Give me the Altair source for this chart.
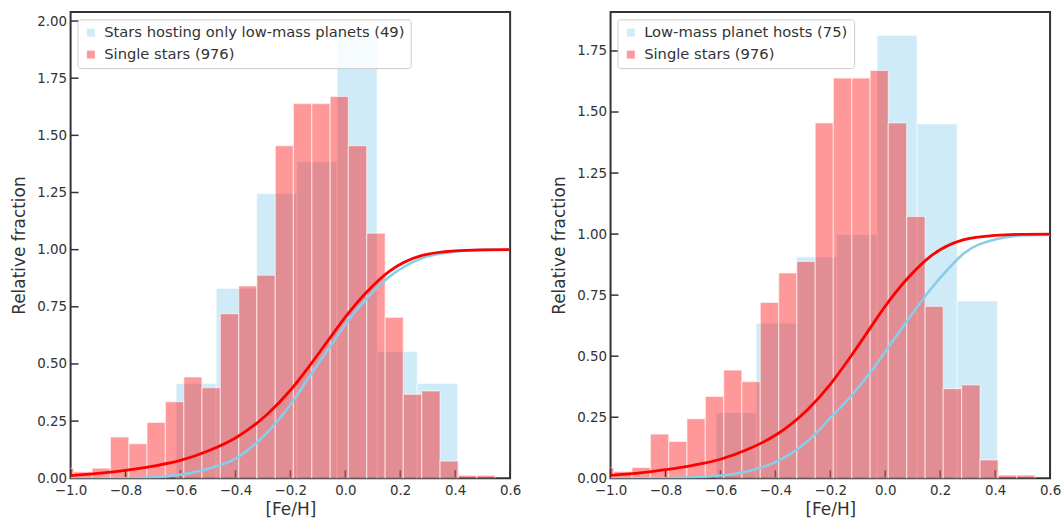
import altair as alt
import pandas as pd

FONT = "DejaVu Sans"
TXT = "#333333"

# ---------------- data ----------------
red_label = "Single stars (976)"
blue_label_left = "Stars hosting only low-mass planets (49)"
blue_label_right = "Low-mass planet hosts (75)"

red_edges = [-1.055, -0.988, -0.922, -0.855, -0.788, -0.722, -0.655, -0.588,
             -0.522, -0.455, -0.388, -0.322, -0.255, -0.189, -0.122, -0.055,
             0.011, 0.078, 0.145, 0.211, 0.278, 0.345, 0.411, 0.478, 0.545]
red_heights = [0.043, 0.028, 0.044, 0.181, 0.151, 0.244, 0.335, 0.443,
               0.396, 0.720, 0.841, 0.888, 1.455, 1.639, 1.639, 1.670,
               1.455, 1.072, 0.704, 0.367, 0.382, 0.075, 0.013, 0.013]

blue_edges = [-0.616, -0.470, -0.323, -0.177, -0.030, 0.116, 0.262, 0.409]
blue_heights_left = [0.415, 0.831, 1.246, 1.385, 1.939, 0.554, 0.415]
blue_heights_right = [0.269, 0.635, 0.907, 0.998, 1.814, 1.451, 0.726]

red_cdf_x = [-1.0, -0.9, -0.8, -0.7, -0.6, -0.5, -0.4, -0.285, -0.2, -0.125,
             -0.055, 0.0, 0.08, 0.16, 0.28, 0.4, 0.5, 0.6]
red_cdf_y = [0.012, 0.021, 0.035, 0.053, 0.078, 0.119, 0.176, 0.279, 0.385, 0.500,
             0.615, 0.705, 0.817, 0.905, 0.975, 0.995, 0.999, 1.0]

blue_cdf_x_left = [-1.0, -0.8, -0.7, -0.6, -0.5, -0.4, -0.285, -0.2, -0.13,
                   -0.058, 0.0, 0.075, 0.159, 0.28, 0.4, 0.5, 0.6]
blue_cdf_y_left = [0.0, 0.0, 0.004, 0.016, 0.042, 0.086, 0.200, 0.322, 0.446,
                   0.572, 0.673, 0.782, 0.880, 0.963, 0.992, 0.999, 1.0]

blue_cdf_x_right = [-1.0, -0.8, -0.6, -0.5, -0.4, -0.285, -0.198, -0.122, -0.05,
                    0.004, 0.082, 0.166, 0.227, 0.287, 0.407, 0.5, 0.6]
blue_cdf_y_right = [0.0, 0.0, 0.011, 0.029, 0.066, 0.150, 0.249, 0.340, 0.440,
                    0.525, 0.648, 0.775, 0.855, 0.922, 0.980, 0.995, 0.998]

x_ticks = [-1.0, -0.8, -0.6, -0.4, -0.2, 0.0, 0.2, 0.4, 0.6]
y_ticks_left = [0.0, 0.25, 0.5, 0.75, 1.0, 1.25, 1.5, 1.75, 2.0]
y_ticks_right = [0.0, 0.25, 0.5, 0.75, 1.0, 1.25, 1.5, 1.75]

W, H = 442, 469


def panel(blue_label, blue_heights, bcx, bcy, ymax, yticks):
    xs = alt.Scale(domain=[-1.0, 0.6], nice=False, zero=False)
    ys = alt.Scale(domain=[0, ymax], nice=False, zero=True)
    xaxis = alt.Axis(values=x_ticks, format=".1f", ticks=False, domain=False, grid=False,
                     labelFlush=False, labelFontSize=13.5, labelColor=TXT, labelFont=FONT,
                     labelPadding=5, title="[Fe/H]", titleFont=FONT, titleFontSize=17,
                     titleFontWeight="normal", titleColor=TXT, titlePadding=5)
    yaxis = alt.Axis(values=yticks, format=".2f", ticks=False, domain=False, grid=False,
                     labelFlush=False, labelFontSize=13.5, labelColor=TXT, labelFont=FONT,
                     labelPadding=4, title="Relative fraction", titleFont=FONT,
                     titleFontSize=17, titleFontWeight="normal", titleColor=TXT,
                     titlePadding=8)
    cscale = alt.Scale(domain=[blue_label, red_label], range=["#87ceeb", "#ff0000"])
    legend = alt.Legend(title=None, orient="none", legendX=7, legendY=7.5,
                        symbolType="square", symbolSize=64, symbolOpacity=0.4,
                        symbolStrokeWidth=0, labelFontSize=14.8, labelFont=FONT,
                        labelColor=TXT, labelLimit=0, fillColor="rgba(255,255,255,0.8)",
                        strokeColor="#cccccc", cornerRadius=3, padding=6,
                        rowPadding=6, labelOffset=6)

    blue_df = pd.DataFrame({"x0": blue_edges[:-1], "x1": blue_edges[1:],
                            "h": blue_heights, "b": 0.0, "s": blue_label})
    red_df = pd.DataFrame({"x0": red_edges[:-1], "x1": red_edges[1:],
                           "h": red_heights, "b": 0.0, "s": red_label})
    xt_df = pd.DataFrame({"xt": x_ticks})
    yt_df = pd.DataFrame({"yt": yticks})
    bl_df = pd.DataFrame({"x": bcx, "y": bcy})
    rl_df = pd.DataFrame({"x": red_cdf_x, "y": red_cdf_y})

    X = lambda f: alt.X(f, type="quantitative", scale=xs, axis=xaxis)
    Y = lambda f: alt.Y(f, type="quantitative", scale=ys, axis=yaxis)

    xtick = alt.Chart(xt_df).mark_rule(color=TXT, strokeWidth=1.5).encode(
        x=X("xt"), y=alt.value(H), y2=alt.value(H - 8))
    ytick = alt.Chart(yt_df).mark_rule(color=TXT, strokeWidth=1.5).encode(
        y=Y("yt"), x=alt.value(0), x2=alt.value(8))

    bar_kw = dict(fillOpacity=0.4, stroke="white", strokeWidth=1.2, strokeOpacity=0.55,
                  clip=True)
    bblue = alt.Chart(blue_df).mark_rect(**bar_kw).encode(
        x=X("x0"), x2="x1", y=Y("h"), y2="b",
        color=alt.Color("s:N", scale=cscale, legend=legend))
    bred = alt.Chart(red_df).mark_rect(**bar_kw).encode(
        x=X("x0"), x2="x1", y=Y("h"), y2="b",
        color=alt.Color("s:N", scale=cscale, legend=legend))
    lblue = alt.Chart(bl_df).mark_line(color="#87ceeb", strokeWidth=2.6,
                                       interpolate="monotone", clip=True).encode(
        x=X("x"), y=Y("y"))
    lred = alt.Chart(rl_df).mark_line(color="#ff0000", strokeWidth=2.8,
                                      interpolate="monotone", clip=True).encode(
        x=X("x"), y=Y("y"))

    return alt.layer(xtick, ytick, bblue, bred, lblue, lred).properties(width=W, height=H)


left = panel(blue_label_left, blue_heights_left, blue_cdf_x_left, blue_cdf_y_left,
             2.04, y_ticks_left)
right = panel(blue_label_right, blue_heights_right, blue_cdf_x_right, blue_cdf_y_right,
              1.91, y_ticks_right)

chart = alt.hconcat(left, right, spacing=27).resolve_scale(
    color="independent", x="independent", y="independent"
).properties(
    padding={"left": 9, "top": 9.5, "right": 0, "bottom": 0},
    background="white",
).configure_view(
    stroke="#333333", strokeWidth=2
)

chart.save("out.html", embed_options={"renderer": "svg", "actions": False})
